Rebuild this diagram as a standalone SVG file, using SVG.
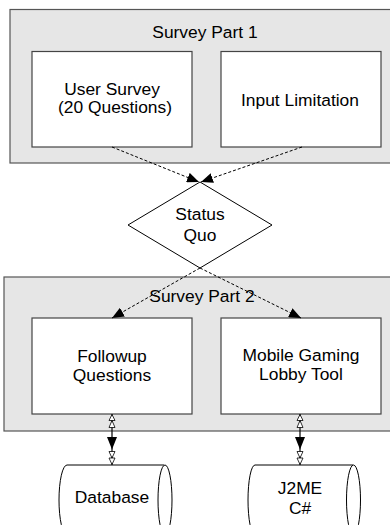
<svg xmlns="http://www.w3.org/2000/svg" width="390" height="525" viewBox="0 0 390 525">
<style>
text{font-family:"Liberation Sans",Arial,sans-serif;font-size:17.4px;fill:#000;text-anchor:middle}
.part{fill:#e6e6e6;stroke:#555;stroke-width:1.2}
.box{fill:#fff;stroke:#444;stroke-width:1.2}
.dia{fill:#fff;stroke:#000;stroke-width:1}
.cyl{fill:#fff;stroke:#000;stroke-width:1}
.dash{fill:none;stroke:#000;stroke-width:1;stroke-dasharray:3,2}
.solid{fill:none;stroke:#000;stroke-width:1.2}
.hollow{fill:#fff;stroke:#000;stroke-width:0.8}
.fill{fill:#000;stroke:none}
</style>
<defs>
<marker id="arr" viewBox="0 0 12 10" refX="12" refY="5" markerWidth="12" markerHeight="10" markerUnits="userSpaceOnUse" orient="auto">
<path d="M0,0 L12,5 L0,10 Z" fill="#000"/>
</marker>
</defs>
<g id="survey-part-1">
<rect class="part" x="10" y="9.5" width="400" height="153.5"/>
<text x="205" y="38">Survey Part 1</text>
</g>
<g id="survey-part-2">
<rect class="part" x="4" y="277" width="410" height="154"/>
<text x="202" y="302">Survey Part 2</text>
</g>
<g id="user-survey">
<rect class="box" x="32" y="51.5" width="160" height="95.5"/>
<text x="112" y="95">User Survey</text>
<text x="115" y="113">(20 Questions)</text>
</g>
<g id="input-limitation">
<rect class="box" x="221" y="51.5" width="160" height="95.5"/>
<text x="300" y="106">Input Limitation</text>
</g>
<g id="status-quo">
<path class="dia" d="M200,182 L272,225 L200,268 L128,225 Z"/>
<text x="200" y="220">Status</text>
<text x="200" y="241">Quo</text>
</g>
<g id="followup-questions">
<rect class="box" x="32" y="318" width="160" height="96"/>
<text x="112" y="362">Followup</text>
<text x="112" y="381">Questions</text>
</g>
<g id="mobile-gaming-lobby-tool">
<rect class="box" x="221" y="318" width="160" height="96"/>
<text x="301" y="361">Mobile Gaming</text>
<text x="301" y="380">Lobby Tool</text>
</g>
<g id="database">
<path class="cyl" d="M164,465 L67,465 A8,35 0 0 0 67,535 L164,535"/>
<ellipse class="cyl" cx="165" cy="500" rx="7" ry="35"/>
<text x="112" y="503">Database</text>
</g>
<g id="j2me-csharp">
<path class="cyl" d="M353,465 L255,465 A7,35 0 0 0 255,535 L353,535"/>
<ellipse class="cyl" cx="353.5" cy="500" rx="7" ry="35"/>
<text x="300" y="494">J2ME</text>
<text x="300" y="514">C#</text>
</g>
<g id="connectors">
<line class="dash" x1="112" y1="147" x2="199" y2="182" marker-end="url(#arr)"/>
<line class="dash" x1="302" y1="147" x2="201" y2="182" marker-end="url(#arr)"/>
<line class="dash" x1="200" y1="268" x2="112" y2="318" marker-end="url(#arr)"/>
<line class="dash" x1="200" y1="268" x2="301" y2="318" marker-end="url(#arr)"/>
<line class="solid" x1="112" y1="414" x2="112" y2="465"/>
<path class="hollow" d="M112,414.5 L115,420.5 L109,420.5 Z"/>
<path class="hollow" d="M112,420.5 L115,427.5 L109,427.5 Z"/>
<path class="fill" d="M107,437 L117,437 L112,449.5 Z"/>
<path class="hollow" d="M109,451.5 L115,451.5 L112,458 Z"/>
<path class="hollow" d="M109,458 L115,458 L112,464.5 Z"/>
<line class="solid" x1="300" y1="414" x2="300" y2="465"/>
<path class="hollow" d="M300,414.5 L303,420.5 L297,420.5 Z"/>
<path class="hollow" d="M300,420.5 L303,427.5 L297,427.5 Z"/>
<path class="fill" d="M295,437 L305,437 L300,449.5 Z"/>
<path class="hollow" d="M297,451.5 L303,451.5 L300,458 Z"/>
<path class="hollow" d="M297,458 L303,458 L300,464.5 Z"/>
</g>
</svg>
